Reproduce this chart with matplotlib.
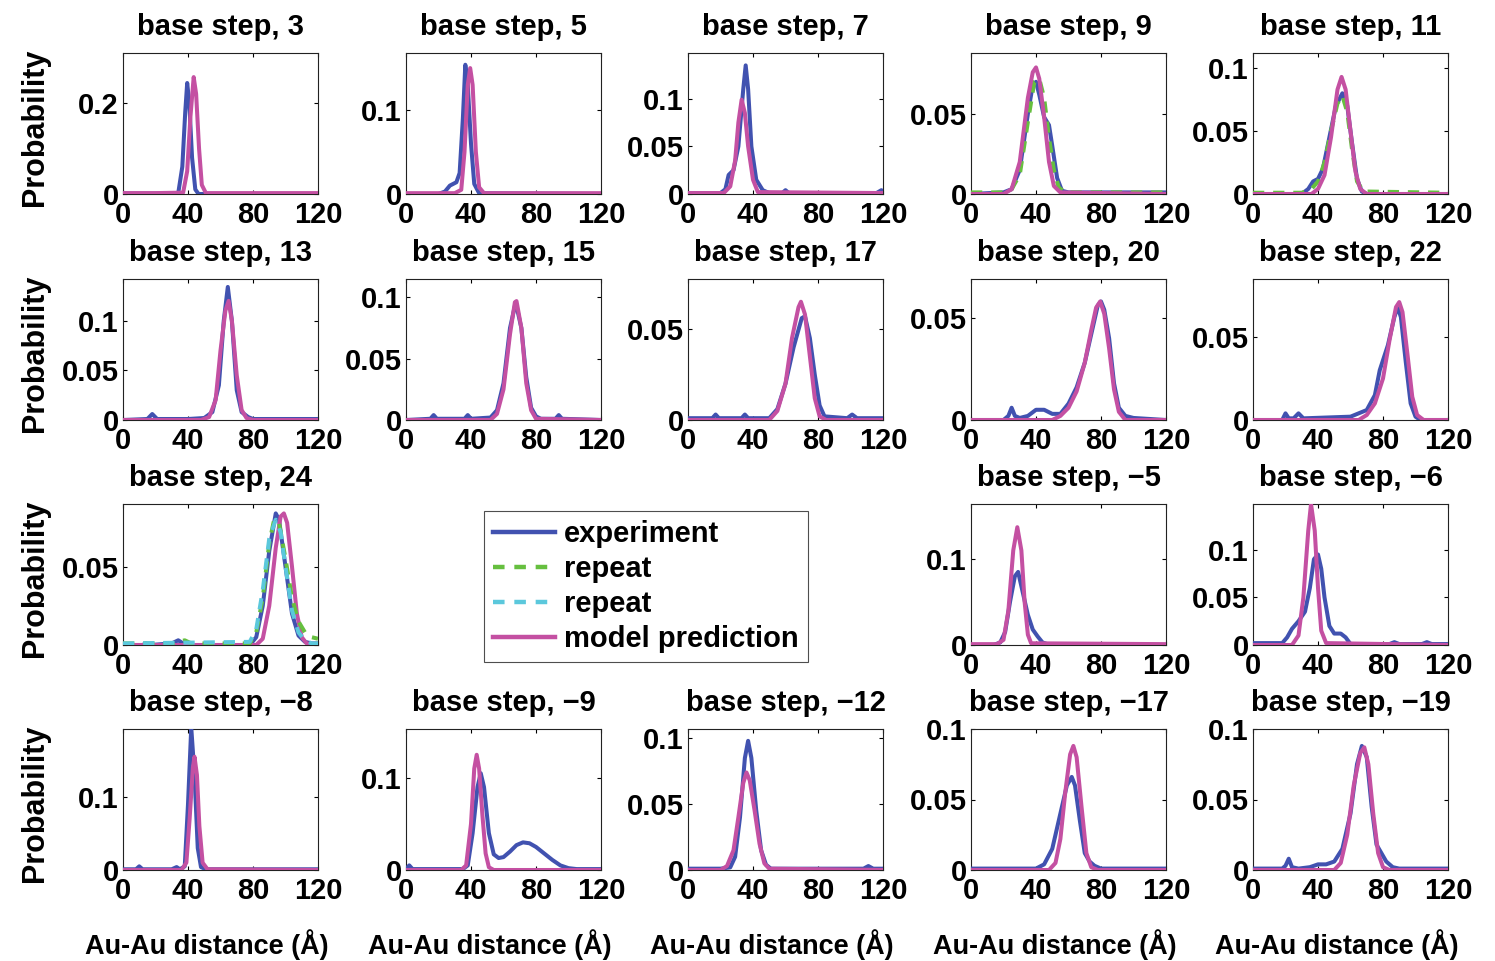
import matplotlib
matplotlib.use('Agg')
import matplotlib.pyplot as plt
from matplotlib.lines import Line2D

plt.rcParams['font.family'] = ['Liberation Sans', 'DejaVu Sans']
plt.rcParams['font.weight'] = 'bold'

# --- data: (distance in A, probability) points ---
titles = ['3', '5', '7', '9', '11',
          '13', '15', '17', '20', '22',
          '24', None, None, '\u22125', '\u22126',
          '\u22128', '\u22129', '\u221212', '\u221217', '\u221219']

ylims = [0.31, 0.168, 0.148, 0.088, 0.112,
         0.142, 0.115, 0.0775, 0.069, 0.0849,
         0.09, None, None, 0.164, 0.148,
         0.193, 0.153, 0.107, 0.1, 0.1]

yticks = [[0, 0.2], [0, 0.1], [0, 0.05, 0.1], [0, 0.05], [0, 0.05, 0.1],
          [0, 0.05, 0.1], [0, 0.05, 0.1], [0, 0.05], [0, 0.05], [0, 0.05],
          [0, 0.05], None, None, [0, 0.1], [0, 0.05, 0.1],
          [0, 0.1], [0, 0.1], [0, 0.05, 0.1], [0, 0.05, 0.1], [0, 0.05, 0.1]]

exp3 = [(0, 0.001), (20, 0.001), (34, 0.002), (36.5, 0.06), (38.3, 0.18), (39.5, 0.244), (40.8, 0.2), (42.5, 0.08), (44.5, 0.01), (46.5, 0), (120, 0)]
mod3 = [(0, 0.002), (20, 0.002), (37, 0.003), (39.5, 0.05), (41.5, 0.17), (43.5, 0.257), (45, 0.22), (46.8, 0.1), (48.5, 0.02), (51, 0.002), (120, 0.002)]

exp5 = [(0, 0), (20, 0), (24, 0.003), (27, 0.01), (31, 0.014), (33, 0.025), (35, 0.09), (36.5, 0.154), (38, 0.13), (40, 0.06), (42, 0.012), (45, 0.001), (120, 0)]
mod5 = [(0, 0.001), (30, 0.001), (34, 0.005), (36, 0.05), (38, 0.13), (39.5, 0.15), (41, 0.13), (43, 0.05), (45, 0.008), (48, 0.001), (120, 0.001)]

exp7 = [(0, 0.001), (20, 0.001), (23, 0.005), (25, 0.02), (28, 0.025), (31, 0.05), (34, 0.11), (35.5, 0.135), (37, 0.11), (39, 0.05), (42, 0.015), (46, 0.004), (50, 0.001), (58, 0.001), (60, 0.004), (62, 0.001), (116, 0.001), (119, 0.004), (120, 0.003)]
mod7 = [(0, 0.001), (22, 0.001), (26, 0.008), (29, 0.035), (31, 0.075), (33, 0.099), (35, 0.085), (37, 0.05), (40, 0.015), (43, 0.002), (120, 0.001)]

exp9 = [(0, 0), (20, 0.001), (25, 0.003), (30, 0.015), (35, 0.05), (38, 0.068), (40, 0.07), (42, 0.062), (45, 0.048), (48, 0.043), (50, 0.03), (53, 0.01), (56, 0.002), (60, 0.001), (120, 0.001)]
rep9 = [(0, 0.001), (20, 0.001), (25, 0.003), (30, 0.012), (35, 0.045), (39, 0.07), (42, 0.072), (45, 0.06), (48, 0.035), (51, 0.015), (54, 0.004), (58, 0.001), (120, 0.001)]
mod9 = [(0, 0), (20, 0), (25, 0.003), (30, 0.02), (35, 0.06), (38, 0.076), (40, 0.079), (42, 0.072), (45, 0.048), (48, 0.02), (51, 0.005), (55, 0.001), (120, 0)]

exp11 = [(0, 0), (30, 0), (34, 0.004), (37, 0.01), (40, 0.012), (43, 0.02), (47, 0.045), (51, 0.07), (55, 0.08), (58, 0.07), (61, 0.04), (64, 0.012), (67, 0.002), (70, 0), (120, 0)]
rep11 = [(0, 0.001), (30, 0.001), (36, 0.004), (40, 0.01), (44, 0.025), (48, 0.05), (52, 0.072), (55, 0.078), (58, 0.065), (61, 0.035), (64, 0.01), (68, 0.002), (120, 0.001)]
mod11 = [(0, 0), (36, 0), (40, 0.004), (44, 0.015), (48, 0.045), (52, 0.083), (54.5, 0.093), (57, 0.083), (60, 0.05), (63, 0.018), (66, 0.004), (70, 0), (120, 0)]

exp13 = [(0, 0), (15, 0.001), (18, 0.006), (21, 0.001), (40, 0.001), (50, 0.002), (55, 0.008), (59, 0.035), (62, 0.1), (64.5, 0.134), (67, 0.1), (70, 0.03), (73, 0.008), (77, 0.003), (80, 0.001), (120, 0.001)]
mod13 = [(0, 0), (48, 0), (53, 0.003), (57, 0.02), (60, 0.07), (63, 0.11), (65, 0.12), (67, 0.1), (70, 0.045), (73, 0.01), (76, 0.002), (80, 0), (120, 0)]

exp15 = [(0, 0), (15, 0.001), (17, 0.004), (19, 0.001), (36, 0.001), (38, 0.004), (40, 0.001), (52, 0.002), (56, 0.008), (60, 0.03), (64, 0.075), (67.5, 0.096), (71, 0.075), (74, 0.035), (77, 0.01), (80, 0.003), (83, 0.001), (92, 0.001), (94, 0.004), (96, 0.001), (120, 0)]
mod15 = [(0, 0), (52, 0), (56, 0.005), (60, 0.025), (64, 0.07), (67, 0.096), (68, 0.097), (71, 0.075), (74, 0.03), (77, 0.008), (80, 0.001), (120, 0)]

exp17 = [(0, 0.001), (15, 0.001), (17, 0.003), (19, 0.001), (33, 0.001), (35, 0.003), (37, 0.001), (50, 0.001), (55, 0.006), (60, 0.02), (65, 0.04), (70, 0.056), (72, 0.057), (75, 0.045), (78, 0.025), (81, 0.008), (84, 0.002), (98, 0.001), (101, 0.003), (104, 0.001), (120, 0.001)]
mod17 = [(0, 0), (50, 0), (55, 0.005), (60, 0.02), (64, 0.045), (68, 0.062), (69.5, 0.065), (72, 0.058), (75, 0.035), (78, 0.012), (81, 0.002), (85, 0), (120, 0)]

exp20 = [(0, 0), (20, 0), (23, 0.002), (25, 0.006), (27, 0.002), (30, 0.001), (35, 0.002), (40, 0.005), (45, 0.005), (50, 0.003), (55, 0.003), (60, 0.008), (65, 0.016), (70, 0.028), (74, 0.042), (78, 0.056), (80, 0.058), (82, 0.054), (85, 0.04), (88, 0.018), (91, 0.006), (95, 0.002), (100, 0.001), (120, 0)]
mod20 = [(0, 0), (50, 0), (55, 0.002), (60, 0.006), (65, 0.014), (70, 0.028), (74, 0.044), (77, 0.055), (79.5, 0.058), (82, 0.052), (85, 0.035), (88, 0.015), (91, 0.004), (95, 0), (120, 0)]

exp22 = [(0, 0), (18, 0), (20, 0.004), (22, 0.001), (25, 0.001), (28, 0.004), (31, 0.001), (60, 0.002), (65, 0.004), (70, 0.006), (75, 0.015), (78, 0.03), (83, 0.045), (87, 0.062), (89, 0.068), (91, 0.062), (94, 0.035), (97, 0.01), (100, 0.002), (103, 0), (120, 0)]
mod22 = [(0, 0), (65, 0), (70, 0.003), (75, 0.01), (80, 0.025), (84, 0.048), (88, 0.068), (90, 0.071), (92, 0.065), (95, 0.04), (98, 0.014), (101, 0.003), (105, 0), (120, 0)]

exp24 = [(0, 0), (12, 0), (14, 0.001), (17, 0), (30, 0.001), (34, 0.003), (37, 0.001), (44, 0), (78, 0), (82, 0.005), (86, 0.025), (90, 0.06), (94, 0.084), (96, 0.08), (100, 0.05), (104, 0.02), (108, 0.006), (112, 0.002), (116, 0.001), (120, 0.001)]
rep24a = [(0, 0.001), (30, 0.001), (34, 0.002), (38, 0.003), (42, 0.001), (78, 0.001), (82, 0.008), (86, 0.03), (90, 0.065), (93, 0.08), (96, 0.078), (100, 0.055), (104, 0.03), (108, 0.015), (112, 0.008), (116, 0.005), (120, 0.004)]
rep24b = [(0, 0.001), (78, 0.002), (82, 0.01), (86, 0.035), (90, 0.068), (94, 0.08), (97, 0.072), (100, 0.05), (104, 0.022), (108, 0.008), (112, 0.003), (116, 0.001), (120, 0.001)]
mod24 = [(0, 0), (82, 0), (86, 0.004), (90, 0.025), (94, 0.062), (97, 0.082), (99, 0.084), (101, 0.078), (104, 0.05), (107, 0.02), (110, 0.005), (113, 0.001), (120, 0)]

exp_5 = [(0, 0), (14, 0), (18, 0.003), (21, 0.015), (24, 0.05), (27, 0.08), (29, 0.085), (32, 0.06), (35, 0.035), (38, 0.018), (41, 0.01), (44, 0.003), (47, 0.001), (120, 0)]
mod_5 = [(0, 0.001), (16, 0.001), (20, 0.006), (23, 0.04), (26, 0.11), (28.5, 0.137), (31, 0.11), (33, 0.05), (35, 0.012), (37, 0.002), (120, 0.001)]

exp_6 = [(0, 0.002), (18, 0.002), (21, 0.008), (24, 0.017), (28, 0.025), (32, 0.035), (35, 0.06), (37.5, 0.09), (40, 0.095), (42, 0.08), (44, 0.05), (47, 0.02), (50, 0.012), (54, 0.012), (57, 0.008), (60, 0.001), (84, 0.001), (87, 0.003), (90, 0.001), (104, 0.001), (107, 0.003), (110, 0.001), (120, 0.001)]
mod_6 = [(0, 0), (24, 0), (28, 0.01), (31, 0.05), (34, 0.12), (35.7, 0.148), (38, 0.12), (40, 0.06), (42, 0.015), (45, 0.002), (120, 0)]

exp_8 = [(0, 0.001), (8, 0.001), (10, 0.005), (12, 0.001), (30, 0.001), (33, 0.004), (35, 0.001), (38, 0.005), (40, 0.09), (42, 0.195), (44, 0.13), (46, 0.03), (48, 0.004), (51, 0.001), (120, 0.001)]
mod_8 = [(0, 0), (36, 0), (39, 0.01), (41, 0.07), (43, 0.14), (44, 0.155), (45.5, 0.13), (47, 0.06), (49, 0.01), (52, 0.001), (120, 0)]

exp_9 = [(0, 0.001), (2, 0.005), (4, 0.001), (35, 0.001), (38, 0.005), (41, 0.04), (44, 0.09), (46, 0.105), (48, 0.09), (51, 0.04), (54, 0.017), (57, 0.013), (60, 0.014), (64, 0.02), (68, 0.027), (72, 0.03), (76, 0.029), (80, 0.025), (85, 0.018), (90, 0.011), (95, 0.005), (100, 0.002), (105, 0.001), (120, 0.001)]
mod_9 = [(0, 0), (34, 0), (37, 0.005), (40, 0.05), (42, 0.11), (43.5, 0.125), (45, 0.11), (47, 0.06), (49, 0.018), (51, 0.003), (54, 0), (120, 0)]

exp_12 = [(0, 0.001), (20, 0.001), (26, 0.002), (29, 0.01), (32, 0.04), (35, 0.085), (37, 0.098), (39, 0.085), (42, 0.045), (45, 0.015), (48, 0.004), (51, 0.001), (108, 0.001), (111, 0.003), (114, 0.001), (120, 0.001)]
mod_12 = [(0, 0), (20, 0), (24, 0.003), (28, 0.015), (31, 0.04), (34, 0.066), (36, 0.074), (38, 0.068), (41, 0.045), (44, 0.02), (47, 0.005), (50, 0.001), (120, 0)]

exp_17 = [(0, 0.001), (40, 0.001), (45, 0.004), (50, 0.015), (55, 0.04), (59, 0.06), (62, 0.066), (64, 0.06), (67, 0.035), (70, 0.012), (73, 0.006), (76, 0.003), (80, 0.001), (120, 0.001)]
mod_17 = [(0, 0), (48, 0), (52, 0.005), (55, 0.022), (58, 0.055), (61, 0.082), (63, 0.088), (65, 0.08), (68, 0.045), (71, 0.012), (74, 0.002), (78, 0), (120, 0)]

exp_19 = [(0, 0.001), (18, 0.001), (20, 0.003), (22, 0.008), (24, 0.002), (28, 0.001), (35, 0.002), (40, 0.004), (45, 0.004), (50, 0.006), (55, 0.015), (60, 0.04), (64, 0.075), (67, 0.088), (70, 0.08), (73, 0.045), (76, 0.018), (79, 0.012), (82, 0.006), (86, 0.002), (90, 0.001), (120, 0.001)]
mod_19 = [(0, 0), (50, 0), (54, 0.005), (58, 0.025), (62, 0.06), (66, 0.083), (68.5, 0.087), (71, 0.075), (74, 0.04), (77, 0.012), (80, 0.002), (84, 0), (120, 0)]

# per panel: experiment, repeat (green), repeat (cyan), model
panels = [(exp3, None, None, mod3), (exp5, None, None, mod5), (exp7, None, None, mod7),
          (exp9, rep9, None, mod9), (exp11, rep11, None, mod11),
          (exp13, None, None, mod13), (exp15, None, None, mod15), (exp17, None, None, mod17),
          (exp20, None, None, mod20), (exp22, None, None, mod22),
          (exp24, rep24a, rep24b, mod24), None, None,
          (exp_5, None, None, mod_5), (exp_6, None, None, mod_6),
          (exp_8, None, None, mod_8), (exp_9, None, None, mod_9), (exp_12, None, None, mod_12),
          (exp_17, None, None, mod_17), (exp_19, None, None, mod_19)]

c_exp = '#4152B0'
c_green = '#66BF3F'
c_cyan = '#5BC8DC'
c_mod = '#C450A2'

W, H = 1495, 961
fig = plt.figure(figsize=(W / 100, H / 100), dpi=100)

col_left = [123, 406, 688, 971, 1253]
row_bottom = [194, 420, 645, 870]
aw, ah = 195, 141
lw = 2.9
dash = (0, (2.8, 2.2))

for i in range(20):
    if panels[i] is None:
        continue
    r, c = divmod(i, 5)
    ax = fig.add_axes([col_left[c] / W, 1 - row_bottom[r] / H, aw / W, ah / H])
    e, g, cy, m = panels[i]
    ax.plot([p[0] for p in e], [p[1] for p in e], color=c_exp, lw=lw, zorder=3)
    if i == 10:
        # for base step 24 the repeats are drawn over the model curve
        ax.plot([p[0] for p in m], [p[1] for p in m], color=c_mod, lw=lw, zorder=3)
    if g is not None:
        ax.plot([p[0] for p in g], [p[1] for p in g], color=c_green, lw=lw, ls=dash, zorder=4)
    if cy is not None:
        ax.plot([p[0] for p in cy], [p[1] for p in cy], color=c_cyan, lw=lw, ls=dash, zorder=4)
    if i != 10:
        ax.plot([p[0] for p in m], [p[1] for p in m], color=c_mod, lw=lw, zorder=5)
    ax.set_xlim(0, 120)
    ax.set_ylim(0, ylims[i])
    ax.set_xticks([0, 40, 80, 120])
    ax.set_yticks(yticks[i])
    ax.set_yticklabels(['0' if t == 0 else ('%g' % t) for t in yticks[i]])
    ax.tick_params(direction='in', length=3, width=0.8, top=True, right=True,
                   labelsize=21, pad=3)
    ax.tick_params(axis='x', pad=5)
    for t in ax.get_xticklabels() + ax.get_yticklabels():
        t.set_fontweight('bold')
    for s in ax.spines.values():
        s.set_linewidth(0.8)
        s.set_color('#222222')
    ax.set_title('base step, ' + titles[i], fontsize=21, fontweight='bold', pad=13)
    if c == 0:
        fig.text(35 / W, 1 - (row_bottom[r] - ah / 2 + 4) / H, 'Probability', rotation=90,
                 ha='center', va='center', fontsize=22, fontweight='bold')
    if r == 3:
        fig.text((col_left[c] + 84) / W, 1 - 945 / H, 'Au-Au distance (\u00c5)',
                 ha='center', va='center', fontsize=19.5, fontweight='bold')

handles = [Line2D([], [], color=c_exp, lw=3.2),
           Line2D([], [], color=c_green, lw=3.2, ls=(0, (2.6, 2.2))),
           Line2D([], [], color=c_cyan, lw=3.2, ls=(0, (2.6, 2.2))),
           Line2D([], [], color=c_mod, lw=3.2)]
leg = fig.legend(handles, ['experiment', 'repeat', 'repeat', 'model prediction'],
                 loc='upper left', bbox_to_anchor=(484 / W, 1 - 511 / H),
                 prop={'size': 21, 'weight': 'bold'}, frameon=True, fancybox=False,
                 handlelength=2.15, handletextpad=0.3, labelspacing=0.24,
                 borderpad=0.3, borderaxespad=0)
leg.get_frame().set_edgecolor('#222222')
leg.get_frame().set_linewidth(0.8)

fig.savefig('out.png', dpi=100)
